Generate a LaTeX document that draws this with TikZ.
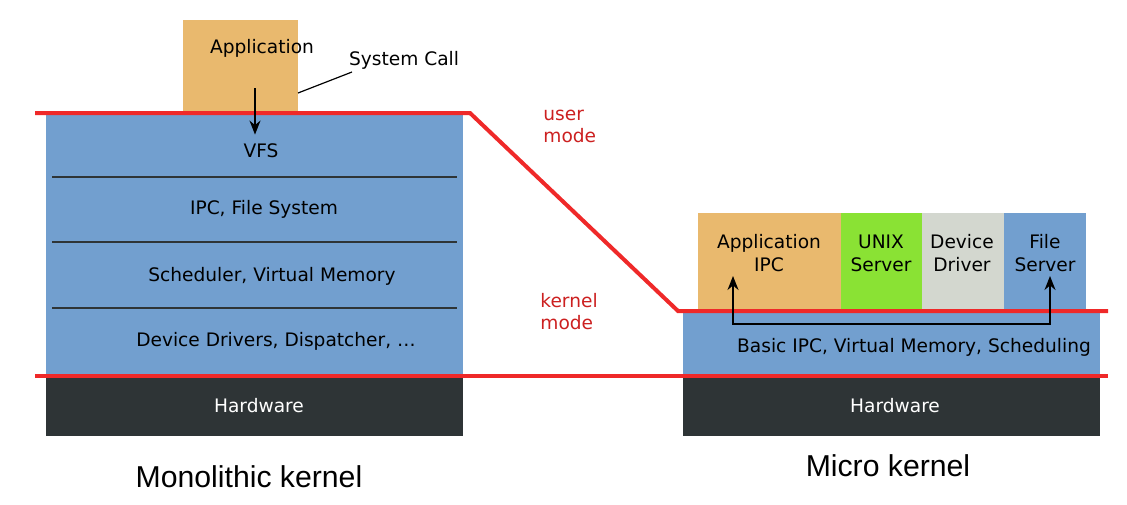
\documentclass[tikz,border=0pt]{standalone}
\usepackage{fontspec}
\setmainfont{DejaVu Sans}
\newfontfamily\capfont{Liberation Sans}
\usetikzlibrary{arrows.meta}
\definecolor{kblue}{HTML}{729FCF}
\definecolor{korange}{HTML}{E9B96E}
\definecolor{kgreen}{HTML}{8AE234}
\definecolor{kgrey}{HTML}{D3D7CF}
\definecolor{kdark}{HTML}{2E3436}
\definecolor{kred}{HTML}{EF2929}
\definecolor{kredtext}{HTML}{CC2020}
\begin{document}
\begin{tikzpicture}[x=0.5pt,y=-0.5pt,
  lbl/.style={font=\fontsize{9.3}{11.5}\selectfont, align=center, inner sep=0pt},
  hwlbl/.style={lbl, text=white},
  modelbl/.style={font=\fontsize{9.3}{11}\selectfont, align=left, text=kredtext, inner sep=0pt, anchor=west},
  caption/.style={font=\capfont\fontsize{15.1}{17}\selectfont, inner sep=0pt},
  redline/.style={draw=kred, line width=2pt},
  divider/.style={draw=kdark, line width=0.6pt},
  tip/.tip={Stealth[length=7pt,width=5.5pt]},
  arr/.style={draw=black, line width=0.85pt, -tip}
]
\useasboundingbox (0,0) rectangle (1127,504);
% left monolithic
\fill[kblue] (46,113) rectangle (463,376);
\fill[kdark] (46,376) rectangle (463,436);
\fill[korange] (183,20) rectangle (298,113);
\draw[divider] (52,177) -- (457,177);
\draw[divider] (52,242) -- (457,242);
\draw[divider] (52,308) -- (457,308);
% right micro
\fill[kblue] (683,311) rectangle (1100,376);
\fill[kdark] (683,376) rectangle (1100,436);
\fill[korange] (698,213) rectangle (841,311);
\fill[kgreen] (841,213) rectangle (922,311);
\fill[kgrey] (922,213) rectangle (1004,311);
\fill[kblue] (1004,213) rectangle (1086,311);
% red lines
\draw[redline] (35,113) -- (470,113) -- (678,311) -- (1108,311);
\draw[redline] (35,376) -- (1108,376);
% texts
\node[lbl] (app) at (262,48) {Application};
\node[lbl] (sc) at (404,60) {System Call};
\node[lbl] (vfs) at (261,151) {VFS};
\node[lbl] (ipcfs) at (264,209) {IPC, File System};
\node[lbl] (sched) at (272,276) {Scheduler, Virtual Memory};
\node[lbl] (dd) at (276,341) {Device Drivers, Dispatcher, \dots};
\node[hwlbl] (hw1) at (259,406) {Hardware};
\node[hwlbl] (hw2) at (895,406) {Hardware};
\node[lbl] (appipc) at (769,253) {Application\\IPC};
\node[lbl] (unix) at (881,253) {UNIX\\Server};
\node[lbl] (devdrv) at (962,253) {Device\\Driver};
\node[lbl] (fs) at (1045,253) {File\\Server};
\node[lbl] (basic) at (914,347) {Basic IPC, Virtual Memory, Scheduling};
\node[modelbl] (um) at (543,126) {user\\mode};
\node[modelbl] (km) at (540,312) {kernel\\mode};
\node[caption] (mono) at (249,477) {Monolithic kernel};
\node[caption] (micro) at (888,466) {Micro kernel};
% connectors
\coordinate (scend) at (298,93);
\draw[line width=0.6pt] (scend) -- (352,72);
\coordinate (vfsstart) at (255,88);
\draw[arr, shorten >=4.5pt] (vfsstart) -- (vfs.north -| vfsstart);
\coordinate (a1) at (733,324);
\coordinate (a2) at (1050,324);
\draw[arr, tip-tip] (733,276) -- (a1) -- (a2) -- (1050,276);
\end{tikzpicture}
\end{document}
